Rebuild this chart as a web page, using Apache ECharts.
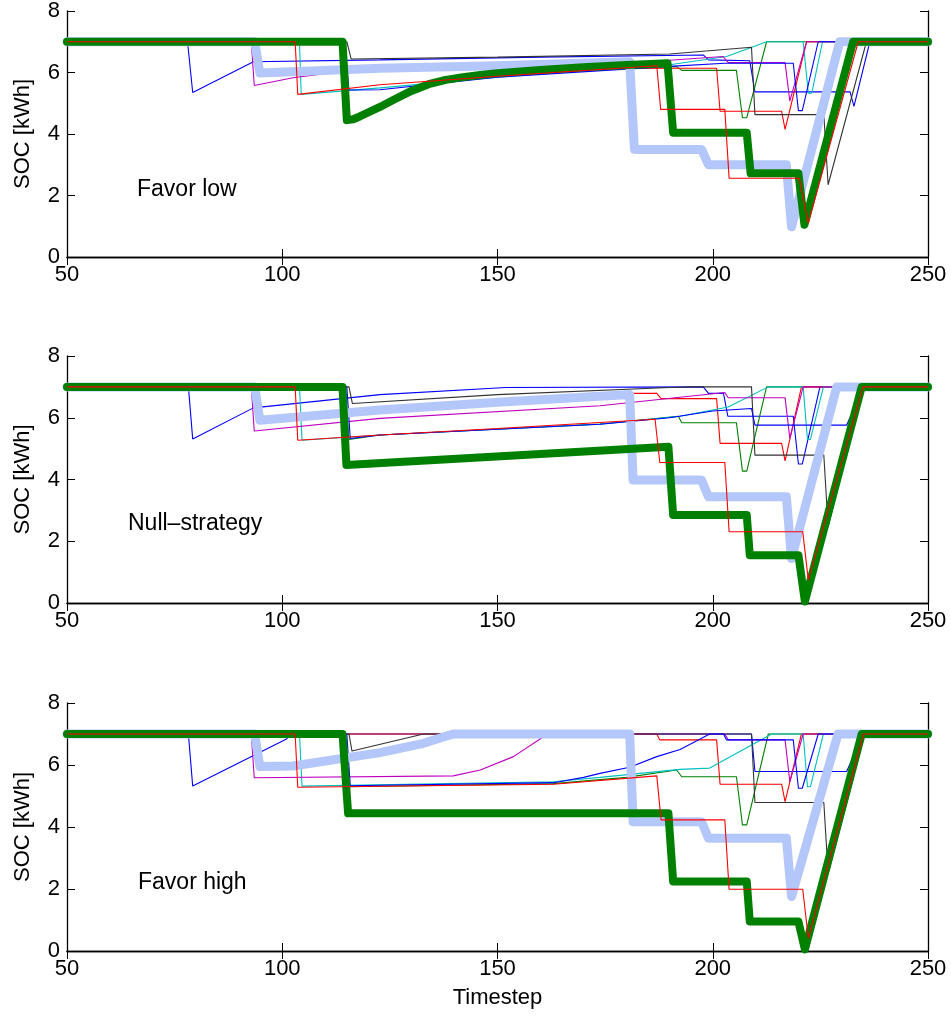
<!DOCTYPE html>
<html>
<head>
<meta charset="utf-8">
<script src="https://cdn.jsdelivr.net/npm/echarts@6/dist/echarts.min.js"></script>
<style>
html,body{margin:0;padding:0;background:#fff;}
#chart{width:951px;height:1017px;}
</style>
</head>
<body>
<div id="chart"></div>
<script>
// ---------- axis ticks / labels ----------
const xTicks = [50, 100, 150, 200, 250];
const yTicks = [0, 2, 4, 6, 8];
const panelLabels = ['Favor low', 'Null\u2013strategy', 'Favor high'];
const yAxisTitle = 'SOC [kWh]';
const xAxisTitle = 'Timestep';

// ---------- Panel 1 : Favor low  ([timestep, SOC kWh]) ----------
const low_blue1 = [[50,7],[78,7],[79.2,5.35],[93.3,6.35],[122.7,6.41],[160,6.5],[197.8,6.57],[199,6.41],[208.6,6.38],[209.8,5.37],[231.9,5.37],[232.8,4.9],[236.5,7],[250,7]];
const low_green = [[50,7],[114,7],[115,4.45],[117,4.52],[120,4.7],[122.7,4.88],[126,5.12],[130,5.4],[134,5.62],[140,5.82],[150,5.98],[170,6.17],[191.6,6.19],[192.8,6.07],[205.5,6.07],[206.9,4.53],[207.9,4.53],[212.5,7],[250,7]];
const low_red2  = [[50,7],[114.2,7],[115.2,4.5],[120,4.72],[122.7,4.9],[126,5.14],[130,5.42],[134,5.64],[140,5.83],[150,5.98],[170,6.12],[191,6.14],[200.9,6.14],[201.7,4.74],[216,4.74],[216.8,4.15],[221.8,7],[250,7]];
const low_cyan  = [[50,7],[104,7],[104.4,5.29],[122.7,5.5],[150,5.85],[190,6.25],[203.2,6.52],[209.4,6.84],[212.5,7],[221,7],[222.2,5.33],[223,5.33],[225.5,7],[250,7]];
const low_mag   = [[50,7],[92.8,7],[93.5,5.58],[102.5,5.83],[115,6.05],[150,6.18],[180,6.3],[202.4,6.52],[203.6,6.32],[216.8,6.32],[217.9,5.07],[221.8,7],[250,7]];
const low_black = [[50,7],[115,7],[116,6.44],[150,6.5],[190,6.6],[209,6.82],[209.8,4.63],[225.8,4.63],[226.8,2.35],[235.7,7],[250,7]];
const low_blue2 = [[50,7],[114.5,7],[115.5,5.43],[122.7,5.44],[150,5.85],[190,6.2],[202.8,6.3],[218.7,6.3],[219.9,4.76],[220.8,4.76],[224.5,7],[250,7]];
const low_thickBlue  = [[50,7],[93.6,7],[94.8,5.98],[122.7,6.14],[150,6.22],[180.7,6.35],[181.8,3.5],[197.4,3.5],[199,3.0],[217.1,3.0],[218.3,0.98],[229.5,7],[250,7]];
const low_thickGreen = [[50,7],[114,7],[115,4.45],[116.5,4.48],[118,4.57],[120,4.7],[122.7,4.88],[126,5.12],[130,5.4],[134,5.62],[138,5.76],[142,5.85],[146,5.92],[150,5.98],[160,6.08],[170,6.17],[180,6.24],[189.5,6.3],[190.8,4.04],[207.9,4.04],[208.8,2.72],[219.9,2.72],[221.3,1.05],[232.6,7],[250,7]];
const low_red1  = [[50,7],[103,7],[103.6,5.29],[122.7,5.6],[150,5.88],[187,6.22],[187.9,4.8],[202.8,4.8],[203.8,2.56],[220.1,2.56],[222.2,1.1],[233.8,7],[250,7]];

// ---------- Panel 2 : Null-strategy ----------
const null_blue1 = [[50,7],[78.2,7],[79.2,5.31],[93.3,6.32],[122.7,6.75],[152,6.98],[197.8,7],[199,6.79],[202.5,6.79],[203.5,6.05],[218.7,6.05],[219.9,4.5],[220.8,4.5],[224.9,7],[250,7]];
const null_green = [[50,7],[114.5,7],[115.5,5.3],[122.7,5.44],[173.8,5.8],[192,6.05],[192.8,5.84],[205.5,5.84],[206.9,4.27],[207.9,4.27],[212.5,7],[250,7]];
const null_red2  = [[50,7],[93,7],[94,5.95],[122.7,6.25],[150,6.5],[181,6.79],[187,6.79],[188,6.62],[200.9,6.62],[201.7,5.17],[216,5.17],[216.8,4.6],[220.6,7],[250,7]];
const null_cyan  = [[50,7],[104,7],[104.6,5.27],[122.7,5.44],[173.8,5.79],[192.4,6.05],[203.6,6.35],[212.9,7],[221,7],[222,5.3],[222.7,5.3],[225.7,7],[250,7]];
const null_mag   = [[50,7],[92.8,7],[93.5,5.57],[122.7,5.98],[173.8,6.39],[202.8,6.82],[203.6,6.65],[216.8,6.65],[217.9,5.33],[221,7],[250,7]];
const null_black = [[50,7],[115.5,7],[116.3,6.46],[150,6.75],[190,6.98],[195,7],[209,7],[209.8,4.79],[225.8,4.79],[226.8,2.47],[235,7],[250,7]];
const null_blue2 = [[50,7],[115,7],[115.8,5.33],[122.7,5.44],[173.8,5.79],[190,6.0],[200,6.22],[209,6.3],[209.8,5.76],[231.1,5.76],[235,7],[250,7]];
const null_thickBlue  = [[50,7],[93.6,7],[94.8,5.92],[122.7,6.25],[150,6.5],[180.7,6.75],[181.5,3.98],[197.4,3.98],[199,3.44],[217.1,3.44],[218.3,1.44],[228.8,7],[250,7]];
const null_thickGreen = [[50,7],[114,7],[114.9,4.47],[189.7,5.06],[190.8,2.85],[207.9,2.85],[208.6,1.55],[219.9,1.55],[221.4,0.05],[234.6,7],[250,7]];
const null_red1  = [[50,7],[103,7],[103.6,5.27],[122.7,5.44],[150,5.65],[186.6,5.95],[187.7,4.55],[202.8,4.55],[203.8,2.31],[220.9,2.31],[222.2,0.74],[234.9,7],[250,7]];

// ---------- Panel 3 : Favor high ----------
const high_blue1 = [[50,7],[78.2,7],[79.2,5.32],[101,6.84],[102,7],[209,7],[209.8,5.79],[231.1,5.79],[235,7],[250,7]];
const high_green = [[50,7],[114.5,7],[115.5,5.3],[163,5.4],[180,5.6],[191.6,5.84],[192.8,5.62],[205.5,5.62],[206.9,4.07],[207.9,4.07],[212.9,7],[250,7]];
const high_red2  = [[50,7],[187,7],[187.7,6.81],[200.9,6.81],[201.7,5.38],[216,5.38],[216.8,4.82],[220.6,7],[250,7]];
const high_cyan  = [[50,7],[104,7],[104.6,5.32],[163,5.46],[173.8,5.6],[192.4,5.86],[199.3,5.9],[213.7,7],[221,7],[222,5.3],[222.7,5.3],[225.7,7],[250,7]];
const high_mag   = [[50,7],[92.8,7],[93.5,5.59],[139.7,5.65],[146,5.84],[153.7,6.27],[159.8,6.83],[161.5,7],[202.8,7],[203.6,6.81],[216.8,6.81],[217.9,5.46],[221,7],[250,7]];
const high_black = [[50,7],[115.5,7],[116.2,6.45],[132.8,7],[209,7],[209.8,4.79],[225.8,4.79],[226.8,2.5],[235.3,7],[250,7]];
const high_blue2 = [[50,7],[115,7],[115.8,5.33],[163,5.43],[170,5.6],[173.8,5.73],[180.7,5.93],[187,6.27],[192.4,6.5],[199.3,7],[202.5,7],[203.2,6.81],[218.7,6.81],[219.9,5.25],[220.8,5.25],[224.5,7],[250,7]];
const high_thickBlue  = [[50,7],[93.6,7],[94.8,5.95],[102.5,5.97],[122.7,6.4],[132.8,6.7],[139.7,7],[180.7,7],[181.5,4.17],[197.4,4.17],[199,3.64],[217.1,3.64],[218.3,1.76],[229.1,7],[250,7]];
const high_thickGreen = [[50,7],[114,7],[115.3,4.44],[189.7,4.44],[190.8,2.24],[207.9,2.24],[208.6,0.95],[219.9,0.95],[221.4,0.05],[234.6,7],[250,7]];
const high_red1  = [[50,7],[103,7],[103.6,5.28],[163,5.38],[187,5.65],[188,4.23],[202.8,4.23],[203.8,1.99],[220.9,1.99],[222.2,0.41],[235,7],[250,7]];

// ---------- build chart ----------
const FONT = 'Liberation Sans, Arial, Helvetica, sans-serif';
const C = {blue:'#0000ff', green:'#008000', red:'#ff0000', cyan:'#00bfbf', mag:'#bf00bf', black:'#333333', lb:'#b4c7fa', g:'#008000'};

const panels = [
  {top: 9,   height: 248, label: panelLabels[0], lx: 137, ly: 191,
   lines: [[low_blue1,'blue'],[low_green,'green'],[low_red2,'red'],[low_cyan,'cyan'],[low_mag,'mag'],[low_black,'black'],[low_blue2,'blue']],
   thickBlue: low_thickBlue, thickGreen: low_thickGreen, topRed: low_red1},
  {top: 356, height: 247, label: panelLabels[1], lx: 128, ly: 525,
   lines: [[null_blue1,'blue'],[null_green,'green'],[null_red2,'red'],[null_cyan,'cyan'],[null_mag,'mag'],[null_black,'black'],[null_blue2,'blue']],
   thickBlue: null_thickBlue, thickGreen: null_thickGreen, topRed: null_red1},
  {top: 703, height: 248, label: panelLabels[2], lx: 138, ly: 884,
   lines: [[high_blue1,'blue'],[high_green,'green'],[high_red2,'red'],[high_cyan,'cyan'],[high_mag,'mag'],[high_black,'black'],[high_blue2,'blue']],
   thickBlue: high_thickBlue, thickGreen: high_thickGreen, topRed: high_red1}
];

const grid = [], xAxis = [], yAxis = [], series = [], graphic = [];
const axLine = {show: true, lineStyle: {color: '#000', width: 1.3}};
const tick = {show: true, inside: true, length: 8, lineStyle: {color: '#000', width: 1}};

panels.forEach((p, i) => {
  grid.push({left: 67, top: p.top, width: 861, height: p.height, containLabel: false});
  xAxis.push({type: 'value', gridIndex: i, position: 'bottom', min: xTicks[0], max: xTicks[xTicks.length-1], interval: xTicks[1]-xTicks[0],
    axisLine: axLine, axisTick: tick, splitLine: {show: false},
    axisLabel: {show: true, color: '#000', fontSize: 22, fontFamily: FONT, margin: 7},
    name: i === 2 ? xAxisTitle : '', nameLocation: 'middle', nameGap: 36,
    nameTextStyle: {color: '#000', fontSize: 22, fontFamily: FONT}});
  xAxis.push({type: 'value', gridIndex: i, position: 'top', min: xTicks[0], max: xTicks[xTicks.length-1], interval: xTicks[1]-xTicks[0],
    axisLine: axLine, axisTick: tick, splitLine: {show: false}, axisLabel: {show: false}});
  yAxis.push({type: 'value', gridIndex: i, position: 'left', min: yTicks[0], max: yTicks[yTicks.length-1], interval: yTicks[1]-yTicks[0],
    axisLine: axLine, axisTick: tick, splitLine: {show: false},
    axisLabel: {show: true, color: '#000', fontSize: 22, fontFamily: FONT, margin: 7},
    name: yAxisTitle, nameLocation: 'middle', nameGap: 33,
    nameTextStyle: {color: '#000', fontSize: 22, fontFamily: FONT}});
  yAxis.push({type: 'value', gridIndex: i, position: 'right', min: yTicks[0], max: yTicks[yTicks.length-1], interval: yTicks[1]-yTicks[0],
    axisLine: axLine, axisTick: tick, splitLine: {show: false}, axisLabel: {show: false}});

  const xi = i * 2, yi = i * 2;
  let z = 2;
  p.lines.forEach(([data, col]) => {
    series.push({type: 'line', xAxisIndex: xi, yAxisIndex: yi, data: data, showSymbol: false, symbol: 'none',
      lineStyle: {color: C[col], width: 1.1}, z: z++, animation: false, silent: true});
  });
  series.push({type: 'line', xAxisIndex: xi, yAxisIndex: yi, data: p.thickBlue, showSymbol: false, symbol: 'none',
    lineStyle: {color: C.lb, width: 9, cap: 'round', join: 'round'}, z: z++, animation: false, silent: true});
  series.push({type: 'line', xAxisIndex: xi, yAxisIndex: yi, data: p.thickGreen, showSymbol: false, symbol: 'none',
    lineStyle: {color: C.g, width: 8, cap: 'round', join: 'round'}, z: z++, animation: false, silent: true});
  series.push({type: 'line', xAxisIndex: xi, yAxisIndex: yi, data: p.topRed, showSymbol: false, symbol: 'none',
    lineStyle: {color: C.red, width: 1.1}, z: z++, animation: false, silent: true});

  graphic.push({type: 'text', left: p.lx, top: p.ly - 13, silent: true,
    style: {text: p.label, fill: '#000', font: '23px ' + FONT}});
});

const chart = echarts.init(document.getElementById('chart'), null, {renderer: 'canvas'});
chart.setOption({animation: false, grid, xAxis, yAxis, series, graphic});
</script>
</body>
</html>
